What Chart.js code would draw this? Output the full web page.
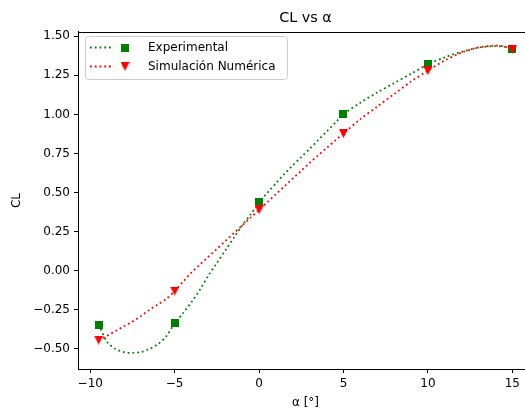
<!DOCTYPE html>
<html><head><meta charset="utf-8">
<script src="https://cdn.jsdelivr.net/npm/chart.js@4"></script>
<style>
html,body{margin:0;padding:0;overflow:hidden;background:#fff;width:525px;height:414px}
#wrap{width:539px;height:414px}
</style></head>
<body><div id="wrap"><canvas id="c" width="539" height="414"></canvas></div>
<script>
// ---- data ----
const alphaPts = [-9.5, -5, 0, 5, 10, 15];
const clExperimental = [-0.345, -0.336, 0.437, 1.0, 1.32, 1.42];
const clSimulacion = [-0.443, -0.13, 0.39, 0.878, 1.28, 1.415];

const curveAlpha = [-9.5,-9,-8.5,-8,-7.5,-7,-6.5,-6,-5.5,-5,-4.5,-4,-3.5,-3,-2.5,-2,-1.5,-1,-0.5,0,0.5,1,1.5,2,2.5,3,3.5,4,4.5,5,6,7,8,9,10,11,12,13,14,14.5,15];
const curveExperimental = [-0.345,-0.455,-0.50,-0.52,-0.525,-0.52,-0.50,-0.47,-0.42,-0.336,-0.27,-0.20,-0.12,-0.03,0.05,0.13,0.21,0.29,0.36,0.437,0.50,0.56,0.62,0.675,0.727,0.78,0.835,0.89,0.945,1.0,1.075,1.14,1.20,1.26,1.32,1.365,1.40,1.427,1.437,1.433,1.42];
const curveSimulacion = [-0.443,-0.415,-0.385,-0.355,-0.325,-0.29,-0.25,-0.215,-0.18,-0.13,-0.07,-0.01,0.04,0.09,0.14,0.19,0.24,0.29,0.34,0.39,0.44,0.49,0.54,0.59,0.64,0.69,0.738,0.785,0.832,0.878,0.97,1.05,1.13,1.21,1.28,1.345,1.395,1.428,1.44,1.435,1.415];

const xTicks = [-10, -5, 0, 5, 10, 15];
const yTicks = [-0.5, -0.25, 0, 0.25, 0.5, 0.75, 1.0, 1.25, 1.5];

const seriesLabels = ['Experimental', 'Simulación Numérica'];
const chartTitle = 'CL vs α';
const xTitle = 'α [°]';
const yTitle = 'CL';

// ---- styling ----
const GREEN = '#008000', RED = '#ff0000';
const FONT = 'DejaVu Sans';
const DOT = [1.8, 2.97];

function squareMarker(color, s) {
  const c = document.createElement('canvas');
  c.width = s; c.height = s;
  const g = c.getContext('2d');
  g.fillStyle = color; g.fillRect(0, 0, s, s);
  return c;
}
function downTriangle(color, s) {
  const c = document.createElement('canvas');
  c.width = s; c.height = s;
  const g = c.getContext('2d');
  g.fillStyle = color;
  g.beginPath(); g.moveTo(0, 0); g.lineTo(s, 0); g.lineTo(s / 2, s); g.closePath(); g.fill();
  return c;
}
const mkExp = squareMarker(GREEN, 8);
const mkSim = downTriangle(RED, 9);

const minus = s => String(s).replace('-', '\u2212');
const pts = (xs, ys) => xs.map((x, i) => ({x, y: ys[i]}));

const frameLegend = {
  id: 'frameLegend',
  afterDraw(chart) {
    const {ctx, chartArea: a} = chart;
    ctx.save();
    ctx.strokeStyle = '#000'; ctx.lineWidth = 1;
    ctx.beginPath();
    ctx.moveTo(a.left, Math.round(a.top) + 0.5); ctx.lineTo(a.right, Math.round(a.top) + 0.5);
    ctx.moveTo(Math.round(a.right) - 0.5, a.top); ctx.lineTo(Math.round(a.right) - 0.5, a.bottom);
    ctx.stroke();
    // legend box
    const bx = 85.5, by = 36.5, bw = 202, bh = 43;
    ctx.fillStyle = 'rgba(255,255,255,0.8)';
    ctx.strokeStyle = '#cccccc';
    ctx.beginPath();
    ctx.roundRect(bx, by, bw, bh, 3);
    ctx.fill(); ctx.stroke();
    const entries = [
      {label: chart.data.datasets[0].label, color: GREEN, mk: mkExp, y: 47.5},
      {label: chart.data.datasets[1].label, color: RED, mk: mkSim, y: 66.5}
    ];
    ctx.font = '12px "' + FONT + '"';
    ctx.textBaseline = 'middle';
    ctx.textAlign = 'left';
    entries.forEach(e => {
      ctx.strokeStyle = e.color; ctx.lineWidth = 1.8;
      ctx.setLineDash(DOT);
      ctx.beginPath(); ctx.moveTo(90, e.y); ctx.lineTo(114, e.y); ctx.stroke();
      ctx.setLineDash([]);
      ctx.drawImage(e.mk, 125 - e.mk.width / 2, e.y - e.mk.height / 2);
      ctx.fillStyle = '#000';
      ctx.fillText(e.label, 148, e.y + 0.5);
    });
    ctx.restore();
  }
};

new Chart(document.getElementById('c'), {
  type: 'scatter',
  data: {
    datasets: [
      {label: seriesLabels[0], data: pts(alphaPts, clExperimental), pointStyle: mkExp, pointRadius: 5,
       backgroundColor: GREEN, borderColor: GREEN, order: 1},
      {label: seriesLabels[1], data: pts(alphaPts, clSimulacion), pointStyle: mkSim, pointRadius: 5,
       backgroundColor: RED, borderColor: RED, order: 0},
      {label: seriesLabels[0] + ' (curva)', data: pts(curveAlpha, curveExperimental), showLine: true, pointRadius: 0,
       borderColor: GREEN, borderWidth: 1.8, borderDash: DOT, tension: 0.3, order: 3},
      {label: seriesLabels[1] + ' (curva)', data: pts(curveAlpha, curveSimulacion), showLine: true, pointRadius: 0,
       borderColor: RED, borderWidth: 1.8, borderDash: DOT, tension: 0.3, order: 2}
    ]
  },
  options: {
    responsive: false,
    animation: false,
    devicePixelRatio: 1,
    layout: {padding: {left: 0, right: 2, top: 0, bottom: 0}},
    plugins: {
      legend: {display: false},
      tooltip: {enabled: false},
      title: {display: true, text: chartTitle, fullSize: false, color: '#000',
              font: {family: FONT, size: 14.4, weight: 'normal'}, padding: {top: 10, bottom: 4.7}}
    },
    scales: {
      x: {
        type: 'linear', min: -10.725, max: 16.225,
        afterBuildTicks: s => { s.ticks = xTicks.map(v => ({value: v})); },
        afterFit: s => { s.height = 45; s.paddingLeft = 0; s.paddingRight = 0; },
        ticks: {color: '#000', font: {family: FONT, size: 12}, padding: 4, maxRotation: 0,
                callback: v => minus(v)},
        grid: {display: true, drawOnChartArea: false, drawTicks: true, tickLength: 4, tickWidth: 1, tickColor: '#000'},
        border: {display: true, color: '#000', width: 1},
        title: {display: true, text: xTitle, color: '#000', font: {family: FONT, size: 12}, padding: {top: 0, bottom: 4}}
      },
      y: {
        type: 'linear', min: -0.628, max: 1.527,
        afterBuildTicks: s => { s.ticks = yTicks.map(v => ({value: v})); },
        afterFit: s => { s.width = 78; s.paddingTop = 0; s.paddingBottom = 0; },
        ticks: {color: '#000', font: {family: FONT, size: 12}, padding: 4,
                callback: v => minus(Number(v).toFixed(2))},
        grid: {display: true, drawOnChartArea: false, drawTicks: true, tickLength: 4, tickWidth: 1, tickColor: '#000'},
        border: {display: true, color: '#000', width: 1},
        title: {display: true, text: yTitle, color: '#000', font: {family: FONT, size: 12}, padding: {top: 10, bottom: 0}}
      }
    }
  },
  plugins: [frameLegend]
});
</script>
</body></html>
